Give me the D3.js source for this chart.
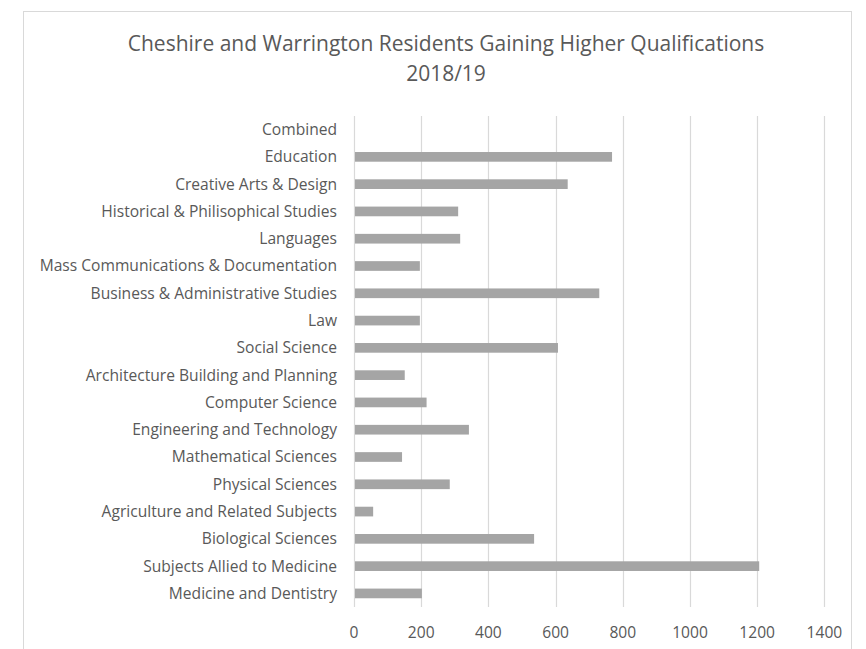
<!DOCTYPE html>
<html>
<head>
<meta charset="utf-8">
<script src="https://d3js.org/d3.v7.min.js"></script>
<style>
  body { margin: 0; background: #fff; }
  text { font-family: "Open Sans", sans-serif; fill: #595959; }
</style>
</head>
<body>
<svg width="866" height="649"></svg>
<script>

var categories = [
  "Combined", "Education", "Creative Arts & Design", "Historical & Philisophical Studies",
  "Languages", "Mass Communications & Documentation", "Business & Administrative Studies",
  "Law", "Social Science", "Architecture Building and Planning", "Computer Science",
  "Engineering and Technology", "Mathematical Sciences", "Physical Sciences",
  "Agriculture and Related Subjects", "Biological Sciences", "Subjects Allied to Medicine",
  "Medicine and Dentistry"
];
var values = [0, 768, 636, 310, 316, 196, 730, 196, 607, 151, 216, 342, 143, 285, 57, 536, 1206, 202];
var ticks = [0, 200, 400, 600, 800, 1000, 1200, 1400];
var titleLines = ["Cheshire and Warrington Residents Gaining Higher Qualifications", "2018/19"];

var svg = d3.select("svg");

// chart frame
svg.append("rect")
    .attr("x", 23.5).attr("y", 11.5)
    .attr("width", 828).attr("height", 660)
    .attr("fill", "#fff")
    .attr("stroke", "#d9d9d9");

var x = d3.scaleLinear().domain([0, 1400]).range([354, 824.4]);
var y = d3.scaleBand().domain(categories).range([116, 607]).paddingInner(0.645).paddingOuter(0.32);

// gridlines
svg.append("g").selectAll("line")
  .data(ticks)
  .enter().append("line")
    .attr("x1", function(d) { return Math.round(x(d)) + 0.5; })
    .attr("x2", function(d) { return Math.round(x(d)) + 0.5; })
    .attr("y1", 116).attr("y2", 607)
    .attr("stroke", "#d9d9d9")
    .attr("stroke-width", 1.2);

// bars
svg.append("g").selectAll("rect")
  .data(values)
  .enter().append("rect")
    .attr("x", x(0) + 1)
    .attr("y", function(d, i) { return y(categories[i]); })
    .attr("width", function(d) { return Math.max(0, x(d) - x(0) - 1); })
    .attr("height", y.bandwidth())
    .attr("fill", "#a5a5a5");

// category labels
svg.append("g").selectAll("text")
  .data(categories)
  .enter().append("text")
    .attr("x", 337)
    .attr("y", function(d) { return y(d) + y.bandwidth() / 2; })
    .attr("dy", "0.35em")
    .attr("text-anchor", "end")
    .style("font-size", "15.6px")
    .text(function(d) { return d; });

// x axis labels
svg.append("g").selectAll("text")
  .data(ticks)
  .enter().append("text")
    .attr("x", function(d) { return x(d); })
    .attr("y", 633)
    .attr("dy", "0.35em")
    .attr("text-anchor", "middle")
    .style("font-size", "15.6px")
    .text(function(d) { return d; });

// title
svg.append("g").selectAll("text")
  .data(titleLines)
  .enter().append("text")
    .attr("x", 446)
    .attr("y", function(d, i) { return 44 + i * 30; })
    .attr("dy", "0.35em")
    .attr("text-anchor", "middle")
    .style("font-size", "21px")
    .text(function(d) { return d; });

</script>
</body>
</html>
